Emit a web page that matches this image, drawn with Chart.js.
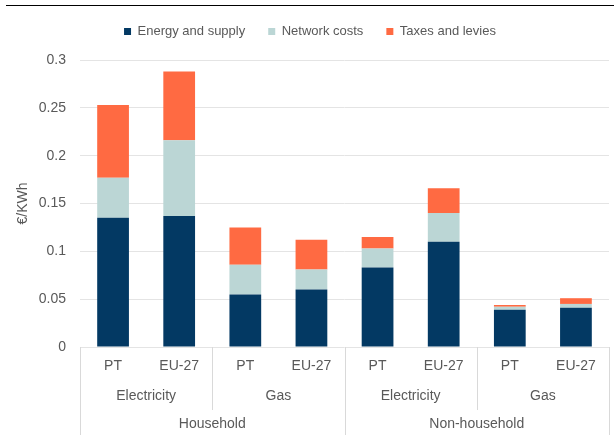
<!DOCTYPE html>
<html>
<head>
<meta charset="utf-8">
<script src="https://cdn.jsdelivr.net/npm/chart.js@4"></script>
<style>
  html, body { margin: 0; padding: 0; background: #fff; }
  #wrap { position: relative; width: 614px; height: 435px; }
  #topline { position: absolute; left: 6px; right: 0; top: 5px; border-top: 1.5px solid #000; }
</style>
</head>
<body>
<div id="wrap"><canvas id="grafico"></canvas><div id="topline"></div></div>
<script>
// datos
const categorias = ['PT', 'EU-27', 'PT', 'EU-27', 'PT', 'EU-27', 'PT', 'EU-27'];
const productos = ['Electricity', 'Gas', 'Electricity', 'Gas'];
const sectores = ['Household', 'Non-household'];
const energia = [0.135, 0.137, 0.055, 0.060, 0.083, 0.110, 0.039, 0.041];
const red = [0.042, 0.079, 0.031, 0.021, 0.020, 0.030, 0.003, 0.004];
const impuestos = [0.076, 0.072, 0.039, 0.031, 0.012, 0.026, 0.002, 0.006];

const FUENTE = '"Liberation Sans", Arial, sans-serif';
const GRIS = '#595959';

Chart.defaults.font.family = FUENTE;
Chart.defaults.font.size = 14;
Chart.defaults.color = GRIS;

// espacio extra bajo la leyenda
const margenLeyenda = {
  id: 'margenLeyenda',
  beforeInit(chart) {
    const leyenda = chart.legend;
    if (!leyenda) return;
    const fitOriginal = leyenda.fit;
    leyenda.fit = function() {
      fitOriginal.call(this);
      this.height += 12;
    };
  }
};

// etiquetas de grupo bajo el eje x
const gruposEje = {
  id: 'gruposEje',
  afterDraw(chart) {
    const x = chart.scales.x;
    const ctx = chart.ctx;
    const base = chart.chartArea.bottom;
    const paso = x.getPixelForValue(1) - x.getPixelForValue(0);
    ctx.save();
    ctx.strokeStyle = '#d9d9d9';
    ctx.lineWidth = 1;
    for (let i = 0; i <= categorias.length; i += 2) {
      const px = Math.round(x.getPixelForValue(i) - paso / 2) + 0.5;
      const fin = (i % 4 === 0) ? chart.height : base + 63;
      ctx.beginPath();
      ctx.moveTo(px, base);
      ctx.lineTo(px, fin);
      ctx.stroke();
    }
    ctx.fillStyle = GRIS;
    ctx.font = '14px ' + FUENTE;
    ctx.textAlign = 'center';
    ctx.textBaseline = 'middle';
    productos.forEach((p, j) => {
      const cx = (x.getPixelForValue(2 * j) + x.getPixelForValue(2 * j + 1)) / 2;
      ctx.fillText(p, cx, base + 49);
    });
    sectores.forEach((s, k) => {
      const cx = (x.getPixelForValue(4 * k) + x.getPixelForValue(4 * k + 3)) / 2;
      ctx.fillText(s, cx, base + 77);
    });
    ctx.restore();
  }
};

const ctx = document.getElementById('grafico').getContext('2d');
const grafico = new Chart(ctx, {
  type: 'bar',
  data: {
    labels: categorias,
    datasets: [
      { label: 'Energy and supply', data: energia, backgroundColor: '#033963' },
      { label: 'Network costs', data: red, backgroundColor: '#bbd6d5' },
      { label: 'Taxes and levies', data: impuestos, backgroundColor: '#ff6a42' }
    ]
  },
  options: {
    responsive: true,
    maintainAspectRatio: false,
    animation: false,
    datasets: { bar: { categoryPercentage: 1, barPercentage: 0.48, borderWidth: 0 } },
    layout: { padding: { top: 2, left: 11, right: 5, bottom: 0 } },
    plugins: {
      legend: {
        position: 'top',
        labels: { boxWidth: 7, boxHeight: 7, padding: 23, font: { size: 13 } }
      },
      tooltip: { enabled: false }
    },
    scales: {
      x: {
        stacked: true,
        grid: { display: false, drawTicks: false },
        border: { display: false },
        ticks: { padding: 11, maxRotation: 0 },
        afterFit: (s) => { s.height = 88; }
      },
      y: {
        stacked: true,
        min: 0,
        max: 0.3,
        ticks: {
          stepSize: 0.05,
          padding: 14,
          callback: (v) => String(parseFloat(v.toFixed(2)))
        },
        grid: { color: '#e4e4e4', drawTicks: false },
        border: { display: false },
        title: { display: true, text: '€/KWh', font: { size: 14 }, padding: 4 },
        afterFit: (s) => { s.width = 69; }
      }
    }
  },
  plugins: [margenLeyenda, gruposEje]
});
</script>
</body>
</html>
